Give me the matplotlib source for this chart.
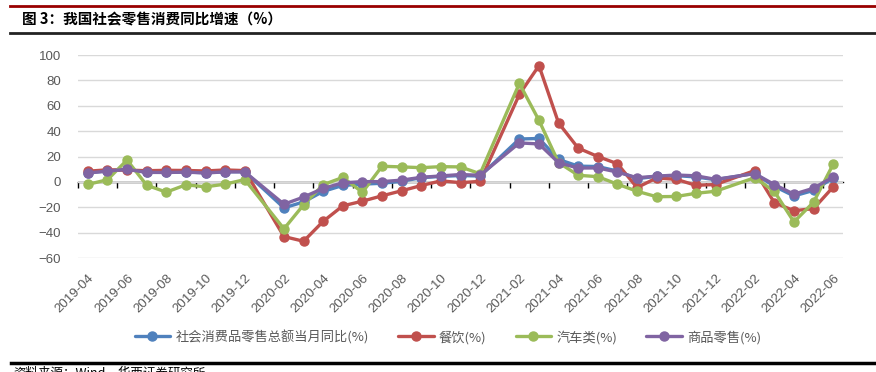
import numpy as np
import pandas as pd
import matplotlib
matplotlib.use('Agg')
import matplotlib.pyplot as plt
from matplotlib.lines import Line2D

plt.rcParams['font.family'] = ['Liberation Sans', 'Noto Sans CJK SC', 'DejaVu Sans']

# Monthly data, 2019-04 .. 2022-06 (January not published -> NaN)
months = pd.period_range('2019-04', '2022-06', freq='M').strftime('%Y-%m').tolist()
nan = np.nan

retail_total = [7.2, 8.6, 9.8, 7.6, 7.5, 7.8, 7.2, 8.0, 8.0,
                nan, -20.5, -15.8, -7.5, -2.8, -1.8, -1.1, 0.5, 3.3, 4.3, 5.0, 4.6,
                nan, 33.8, 34.2, 17.7, 12.4, 12.1, 8.5, 2.5, 4.4, 4.9, 3.9, 1.7,
                nan, 6.7, -3.5, -11.1, -6.7, 3.1]
catering = [8.4, 9.5, 9.3, 8.8, 9.1, 9.0, 8.6, 9.4, 8.9,
            nan, -43.1, -46.8, -31.1, -18.9, -15.2, -11.0, -7.0, -2.9, 0.8, -0.6, 0.4,
            nan, 68.9, 91.6, 46.4, 26.6, 20.0, 14.3, -4.5, 3.1, 2.0, -2.7, -2.1,
            nan, 8.9, -16.4, -22.7, -21.1, -4.0]
autos = [-2.0, 1.7, 17.2, -2.6, -8.1, -2.3, -3.9, -1.8, 1.8,
         nan, -37.0, -18.1, -2.2, 3.5, -8.2, 12.3, 11.8, 11.2, 12.0, 11.8, 6.4,
         nan, 77.6, 48.5, 15.2, 5.2, 4.1, -1.8, -7.4, -11.7, -11.5, -9.0, -7.4,
         nan, 3.3, -7.5, -31.6, -16.0, 13.9]
goods = [7.0, 8.5, 9.9, 7.5, 7.4, 7.7, 7.0, 7.9, 7.9,
         nan, -17.6, -12.0, -5.1, -0.8, 0.2, 0.2, 1.4, 3.6, 4.7, 5.8, 5.2,
         nan, 30.7, 29.9, 15.1, 10.9, 11.0, 7.7, 3.3, 4.5, 5.4, 4.8, 2.0,
         nan, 6.5, -2.1, -9.7, -5.0, 3.9]

series = [('社会消费品零售总额当月同比(%)', retail_total, '#4F81BD'),
          ('餐饮(%)', catering, '#C0504D'),
          ('汽车类(%)', autos, '#9BBB59'),
          ('商品零售(%)', goods, '#8064A2')]

W, H = 876, 372
fig = plt.figure(figsize=(W / 100, H / 100), dpi=100)
ax = fig.add_axes([78 / W, 1 - 258 / H, (843 - 78) / W, (258 - 55) / H])

x = np.arange(len(months))
for name, vals, col in series:
    v = np.array(vals, dtype=float)
    m = ~np.isnan(v)
    ax.plot(x[m], v[m], color=col, lw=2.4, marker='o', ms=6.5, label=name,
            solid_capstyle='round')

ymin, ymax = -60, 100
ax.set_ylim(ymin, ymax)
ax.set_xlim(-0.5, len(months) - 0.5)
ax.set_yticks(np.arange(-60, 101, 20))
ax.grid(axis='y', color='#D9D9D9', lw=1)
ax.set_axisbelow(True)
for s in ax.spines.values():
    s.set_visible(False)
ax.tick_params(axis='y', length=0, pad=12, labelsize=9.5, labelcolor='#595959')

ax.set_xticks(x[::2])
ax.set_xticklabels(months[::2], rotation=45, ha='right', va='top',
                   rotation_mode='anchor')
ax.tick_params(axis='x', length=0, pad=10, labelsize=9.5, labelcolor='#595959')

# zero line with tick marks
sec = ax.secondary_xaxis((0 - ymin) / (ymax - ymin))
sec.set_xticks(np.arange(-0.5, len(months) - 0.5, 2))
sec.tick_params(axis='x', length=4, width=1, color='black', labelbottom=False)
sec.spines['bottom'].set_color('black')
sec.spines['bottom'].set_linewidth(1)

leg = fig.legend(loc='center', bbox_to_anchor=(448 / W, 1 - 337 / H), ncol=4,
                 frameon=False, handlelength=2.7, handletextpad=0.4,
                 columnspacing=2.2,
                 prop={'family': ['Noto Sans CJK SC'], 'size': 9.5})
for t in leg.get_texts():
    t.set_color('#595959')

# header / footer decoration
fig.add_artist(Line2D([10 / W, 1], [1 - 6 / H] * 2, color='#990000', lw=2))
fig.add_artist(Line2D([10 / W, 1], [1 - 33 / H] * 2, color='#222222', lw=2))
fig.add_artist(Line2D([11 / W, 1], [1 - 363 / H] * 2, color='black', lw=2.5))
fig.text(22 / W, 1 - 19 / H, '图 3：我国社会零售消费同比增速（%）', ha='left', va='center',
         fontsize=10.5, fontweight='bold', family=['Noto Sans CJK SC'])
fig.text(13 / W, 1 - 367 / H, '资料来源：Wind，华西证券研究所', ha='left', va='top',
         fontsize=9, family=['Noto Sans CJK SC'])

fig.savefig('out.png', dpi=100)
